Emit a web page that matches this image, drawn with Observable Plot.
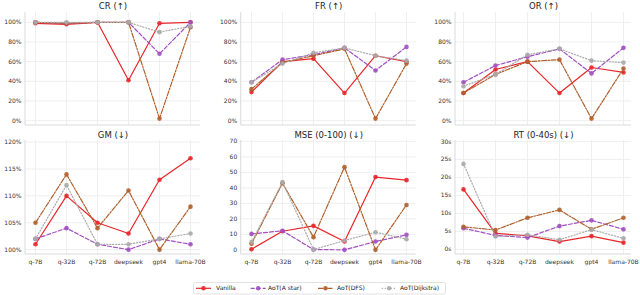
<!DOCTYPE html>
<html><head><meta charset="utf-8">
<script src="https://cdn.jsdelivr.net/npm/d3@7"></script>
<script src="https://cdn.jsdelivr.net/npm/@observablehq/plot@0.6"></script>
<style>
body{margin:0;background:#fff;font-family:"DejaVu Sans",sans-serif}
#wrap{position:relative;width:640px;height:295px;overflow:hidden}
.panel{position:absolute}
</style></head><body><div id="wrap"></div>
<script>
const models = ["q-7B","q-32B","q-72B","deepseek","gpt4","llama-70B"];
const methods = ["Vanilla","AoT(A star)","AoT(DFS)","AoT(Dijkstra)"];
const colors = ["#e8262a","#a24fc2","#b0602c","#aaaaaa"];
const dashes = [null,"4,2","5,1.5,1.5,1.5","1.2,1.8"];

const crVanilla  = [99,98,100,41,99,100];
const crAstar    = [100,99,100,100,68,100];
const crDFS      = [100,99,100,100,2,95];
const crDijkstra = [100,100,100,100,90,96];

const frVanilla  = [29,60,63,28,66,60];
const frAstar    = [39,62,67,74,51,75];
const frDFS      = [32,59,66,73,2,58];
const frDijkstra = [39,58,69,74,66,61];

const orVanilla  = [28,52,60,28,54,49];
const orAstar    = [39,56,65,73,48,74];
const orDFS      = [28,47,60,62,2,53];
const orDijkstra = [35,47,67,73,61,59];

const gmVanilla  = [101,110,105,103,113,117];
const gmAstar    = [102,104,101,100,102,101];
const gmDFS      = [105,114,104,111,100,108];
const gmDijkstra = [102,112,101,101,102,103];

const mseVanilla  = [0.4,12,15.5,5.4,47,45];
const mseAstar    = [10.3,12.3,0.2,0,5.4,9.7];
const mseDFS      = [3.9,43,8.2,53.4,0,29];
const mseDijkstra = [5,43.7,0.2,6,11.4,6.9];

const rtVanilla  = [16.7,4.5,3.8,2.2,3.7,1.9];
const rtAstar    = [5.9,3.9,3.3,6.5,8.1,5.6];
const rtDFS      = [6.3,5.4,8.8,11,5.6,8.8];
const rtDijkstra = [23.8,3.6,4.1,2.7,5.5,3.1];

const titles = ["CR (↑)","FR (↑)","OR (↑)","GM (↓)","MSE (0-100) (↓)","RT (0-40s) (↓)"];
const pctTicks = [0,20,40,60,80,100];
const gmTicks = [100,105,110,115,120];
const mseTicks = [0,10,20,30,40,50,60,70];
const rtTicks = [0,5,10,15,20,25,30];

const panels = [
  {title:titles[0], series:[crVanilla,crAstar,crDFS,crDijkstra], ticks:pctTicks, fmt:d=>d+"%", domain:[-5,110]},
  {title:titles[1], series:[frVanilla,frAstar,frDFS,frDijkstra], ticks:pctTicks, fmt:d=>d+"%", domain:[-5,110]},
  {title:titles[2], series:[orVanilla,orAstar,orDFS,orDijkstra], ticks:pctTicks, fmt:d=>d+"%", domain:[-5,110]},
  {title:titles[3], series:[gmVanilla,gmAstar,gmDFS,gmDijkstra], ticks:gmTicks, fmt:d=>d+"%", domain:[99.1,120.3]},
  {title:titles[4], series:[mseVanilla,mseAstar,mseDFS,mseDijkstra], ticks:mseTicks, fmt:d=>String(d), domain:[-3,70.6]},
  {title:titles[5], series:[rtVanilla,rtAstar,rtDFS,rtDijkstra], ticks:rtTicks, fmt:d=>d+"s", domain:[-1.4,30.3]}
];

const cols = [{left:0, ml:25, mr:13},{left:213, ml:27.7, mr:10.3},{left:427, ml:28, mr:9}];
const rows = [{top:0, h:128, mt:12, mb:3, xlab:false, tdy:-6},{top:130, h:145, mt:10, mb:21, xlab:true, tdy:-5}];

const wrap = document.getElementById("wrap");

panels.forEach((p, i) => {
  const c = cols[i % 3], r = rows[Math.floor(i / 3)];
  const marks = [
    Plot.gridX(models, {stroke:"#ebebeb", strokeOpacity:1, strokeWidth:0.8}),
    Plot.gridY(p.ticks, {stroke:"#ebebeb", strokeOpacity:1, strokeWidth:0.8}),
    (index, scales, values, dim) => {
      const g = d3.create("svg:g");
      const x0 = dim.marginLeft, y1 = dim.height - dim.marginBottom;
      g.append("line").attr("x1", x0).attr("x2", x0).attr("y1", dim.marginTop).attr("y2", y1).attr("stroke", "#d6d6d6").attr("stroke-width", 0.9);
      g.append("line").attr("x1", x0).attr("x2", dim.width - dim.marginRight).attr("y1", y1).attr("y2", y1).attr("stroke", "#d6d6d6").attr("stroke-width", 0.9);
      return g.node();
    },
    Plot.axisY(p.ticks, {tickSize:0, tickPadding:4, tickFormat:p.fmt, fontSize:6, fill:"#333", label:null})
  ];
  if (r.xlab) marks.push(Plot.axisX(models, {tickSize:0, tickPadding:5, fontSize:6, fill:"#333", label:null}));
  marks.push(Plot.text([p.title], {frameAnchor:"top", dy:r.tdy, lineAnchor:"middle", fontSize:8.5, fill:"#222"}));
  p.series.forEach((vals, k) => {
    const data = models.map((m, j) => ({m, v: vals[j]}));
    marks.push(Plot.line(data, {x:"m", y:"v", stroke:colors[k], strokeWidth:1.2, strokeDasharray:dashes[k] || undefined}));
    marks.push(Plot.dot(data, {x:"m", y:"v", fill:colors[k], r:2.3, fillOpacity:0.9}));
  });
  const svg = Plot.plot({
    width: 213, height: r.h,
    marginLeft: c.ml, marginRight: c.mr, marginTop: r.mt, marginBottom: r.mb,
    style: {fontFamily: "DejaVu Sans", background: "white", overflow: "visible"},
    x: {type:"point", domain: models, padding: 0.25, axis: null, label: null},
    y: {domain: p.domain, axis: null, label: null},
    marks
  });
  svg.classList.add("panel");
  svg.style.left = c.left + "px";
  svg.style.top = r.top + "px";
  wrap.appendChild(svg);
});

// legend
const lg = d3.create("svg").attr("width", 640).attr("height", 16)
  .style("position", "absolute").style("left", "0px").style("top", "280px")
  .style("font-family", "DejaVu Sans");
lg.append("rect").attr("x", 193.5).attr("y", 2.5).attr("width", 252).attr("height", 11.5).attr("rx", 2)
  .attr("fill", "white").attr("stroke", "#d9d9d9").attr("stroke-width", 0.8);
const lineX = [196, 250.7, 318, 381.7];
const textX = [216, 268, 337, 400];
methods.forEach((m, k) => {
  const l = lg.append("line").attr("x1", lineX[k]).attr("x2", lineX[k] + 15).attr("y1", 8.3).attr("y2", 8.3)
    .attr("stroke", colors[k]).attr("stroke-width", 1.2);
  if (dashes[k]) l.attr("stroke-dasharray", dashes[k]);
  lg.append("circle").attr("cx", lineX[k] + 7.5).attr("cy", 8.3).attr("r", 2.3).attr("fill", colors[k]).attr("fill-opacity", 0.9);
  lg.append("text").attr("x", textX[k]).attr("y", 8.3).attr("dy", "0.35em").attr("font-size", 6).attr("fill", "#222").text(m);
});
wrap.appendChild(lg.node());
</script></body></html>
